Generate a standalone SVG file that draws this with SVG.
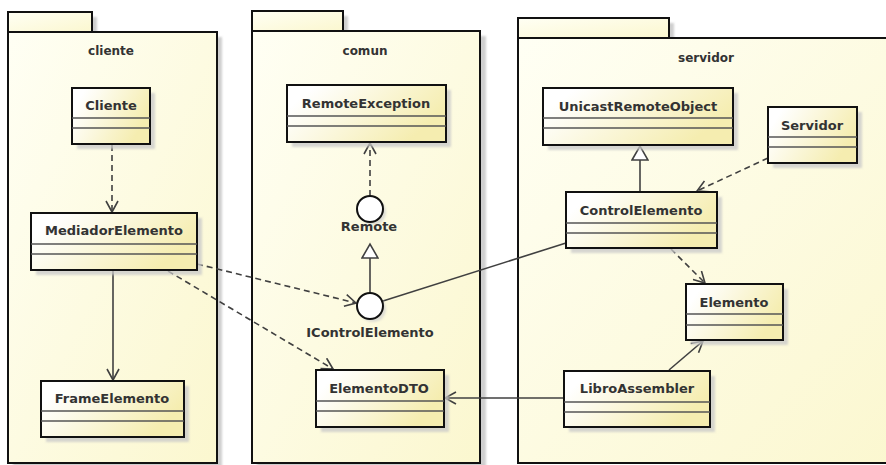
<svg xmlns="http://www.w3.org/2000/svg" width="886" height="465" viewBox="0 0 886 465">
  <style>
    .pkg { fill: url(#pkgFill); stroke: #111; stroke-width: 2; }
    .pkgShadow { fill: #cfcfcf; filter: url(#soft); }
    .cls { fill: url(#clsFill); stroke: #111; stroke-width: 2; }
    .clsShadow { fill: #c9c9c9; opacity: 0.75; filter: url(#soft); }
    .sep { stroke: #555; stroke-width: 1.5; }
    .name { font-family: "DejaVu Sans", Verdana, sans-serif; font-size: 13px; font-weight: bold; fill: #333; text-anchor: middle; }
    .pkgName { font-family: "DejaVu Sans", Verdana, sans-serif; font-size: 12px; font-weight: bold; fill: #333; text-anchor: middle; }
    .iface { fill: #fff; stroke: #111; stroke-width: 2; }
    .edge { fill: none; stroke: #404040; stroke-width: 1.6; }
    .dash { stroke-dasharray: 6 4; }
  </style>
  <defs>
    <linearGradient id="pkgFill" x1="0" y1="0" x2="1" y2="1">
      <stop offset="0" stop-color="#fffff4"/>
      <stop offset="1" stop-color="#fbf7cf"/>
    </linearGradient>
    <linearGradient id="clsFill" x1="0" y1="0" x2="1" y2="0.4">
      <stop offset="0.15" stop-color="#ffffff"/>
      <stop offset="1" stop-color="#f5edb0"/>
    </linearGradient>
    <filter id="soft" x="-10%" y="-10%" width="120%" height="120%">
      <feGaussianBlur stdDeviation="1.2"/>
    </filter>
    <marker id="open" viewBox="-1 -1 14 14" refX="11" refY="6" markerWidth="14" markerHeight="14" markerUnits="userSpaceOnUse" orient="auto">
      <path d="M0,0 L11,6 L0,12" fill="none" stroke="#404040" stroke-width="1.6"/>
    </marker>
    <marker id="tri" viewBox="-1 -1 17 18" refX="14" refY="8" markerWidth="17" markerHeight="18" markerUnits="userSpaceOnUse" orient="auto">
      <path d="M0,0 L14,8 L0,16 Z" fill="#fff" stroke="#404040" stroke-width="1.6"/>
    </marker>
  </defs>

  <rect x="0" y="0" width="886" height="465" fill="#fff"/>

  <!-- packages -->
  <g id="pkg-cliente">
    <rect class="pkgShadow" x="13" y="17" width="84" height="20"/>
    <rect class="pkgShadow" x="13" y="37" width="209" height="435"/>
    <rect class="pkg" x="8" y="12" width="84" height="20"/>
    <rect class="pkg" x="8" y="32" width="209" height="431"/>
    <text class="pkgName" x="111" y="55">cliente</text>
  </g>
  <g id="pkg-comun">
    <rect class="pkgShadow" x="257" y="16" width="91" height="20"/>
    <rect class="pkgShadow" x="257" y="36" width="229" height="435"/>
    <rect class="pkg" x="252" y="11" width="91" height="20"/>
    <rect class="pkg" x="252" y="31" width="228" height="432"/>
    <text class="pkgName" x="365" y="55">comun</text>
  </g>
  <g id="pkg-servidor">
    <rect class="pkgShadow" x="523" y="23" width="151" height="20"/>
    <rect class="pkg" x="518" y="18" width="151" height="20"/>
    <rect class="pkg" x="518" y="38" width="390" height="425"/>
    <text class="pkgName" x="706" y="62">servidor</text>
  </g>

  <!-- connectors -->
  <g id="connectors">
    <line class="edge dash" x1="112" y1="145" x2="112" y2="212" marker-end="url(#open)"/>
    <line class="edge" x1="113" y1="271" x2="113" y2="380" marker-end="url(#open)"/>
    <line class="edge dash" x1="197" y1="264" x2="356" y2="303" marker-end="url(#open)"/>
    <line class="edge dash" x1="168" y1="271" x2="333" y2="369" marker-end="url(#open)"/>
    <line class="edge" x1="370" y1="293" x2="370" y2="244" marker-end="url(#tri)"/>
    <line class="edge dash" x1="370" y1="196" x2="370" y2="143" marker-end="url(#open)"/>
    <line class="edge" x1="566" y1="243" x2="383" y2="301"/>
    <line class="edge" x1="640" y1="192" x2="640" y2="146" marker-end="url(#tri)"/>
    <line class="edge dash" x1="768" y1="158" x2="697" y2="191" marker-end="url(#open)"/>
    <line class="edge dash" x1="671" y1="249" x2="705" y2="283" marker-end="url(#open)"/>
    <line class="edge" x1="669" y1="370" x2="703" y2="341" marker-end="url(#open)"/>
    <line class="edge" x1="564" y1="398" x2="445" y2="398" marker-end="url(#open)"/>
  </g>

  <!-- classes -->
  <g id="Cliente">
    <rect class="clsShadow" x="77" y="93" width="78" height="56"/>
    <rect class="cls" x="72" y="88" width="78" height="56"/>
    <line class="sep" x1="72" y1="118" x2="150" y2="118"/>
    <line class="sep" x1="72" y1="128" x2="150" y2="128"/>
    <text class="name" x="111" y="110">Cliente</text>
  </g>
  <g id="MediadorElemento">
    <rect class="clsShadow" x="36" y="218" width="166" height="57"/>
    <rect class="cls" x="31" y="213" width="166" height="57"/>
    <line class="sep" x1="31" y1="244" x2="197" y2="244"/>
    <line class="sep" x1="31" y1="254" x2="197" y2="254"/>
    <text class="name" x="114" y="235">MediadorElemento</text>
  </g>
  <g id="FrameElemento">
    <rect class="clsShadow" x="46" y="386" width="143" height="56"/>
    <rect class="cls" x="41" y="381" width="143" height="56"/>
    <line class="sep" x1="41" y1="411" x2="184" y2="411"/>
    <line class="sep" x1="41" y1="421" x2="184" y2="421"/>
    <text class="name" x="112" y="403">FrameElemento</text>
  </g>
  <g id="RemoteException">
    <rect class="clsShadow" x="292" y="90" width="159" height="57"/>
    <rect class="cls" x="287" y="85" width="159" height="57"/>
    <line class="sep" x1="287" y1="116" x2="446" y2="116"/>
    <line class="sep" x1="287" y1="126" x2="446" y2="126"/>
    <text class="name" x="366" y="108">RemoteException</text>
  </g>
  <g id="Remote">
    <circle cx="373" cy="212" r="13" fill="#d0d0d0" opacity="0.7" filter="url(#soft)"/>
    <circle class="iface" cx="370" cy="209" r="13"/>
    <text class="name" x="369" y="231">Remote</text>
  </g>
  <g id="IControlElemento">
    <circle cx="373" cy="309" r="13" fill="#d0d0d0" opacity="0.7" filter="url(#soft)"/>
    <circle class="iface" cx="370" cy="306" r="13"/>
    <text class="name" x="370" y="337">IControlElemento</text>
  </g>
  <g id="ElementoDTO">
    <rect class="clsShadow" x="321" y="375" width="128" height="57"/>
    <rect class="cls" x="316" y="370" width="128" height="57"/>
    <line class="sep" x1="316" y1="401" x2="444" y2="401"/>
    <line class="sep" x1="316" y1="411" x2="444" y2="411"/>
    <text class="name" x="379" y="393">ElementoDTO</text>
  </g>
  <g id="UnicastRemoteObject">
    <rect class="clsShadow" x="548" y="93" width="190" height="57"/>
    <rect class="cls" x="543" y="88" width="190" height="57"/>
    <line class="sep" x1="543" y1="118" x2="733" y2="118"/>
    <line class="sep" x1="543" y1="128" x2="733" y2="128"/>
    <text class="name" x="638" y="111">UnicastRemoteObject</text>
  </g>
  <g id="Servidor">
    <rect class="clsShadow" x="773" y="112" width="89" height="56"/>
    <rect class="cls" x="768" y="107" width="89" height="56"/>
    <line class="sep" x1="768" y1="137" x2="857" y2="137"/>
    <line class="sep" x1="768" y1="147" x2="857" y2="147"/>
    <text class="name" x="812" y="130">Servidor</text>
  </g>
  <g id="ControlElemento">
    <rect class="clsShadow" x="571" y="197" width="151" height="56"/>
    <rect class="cls" x="566" y="192" width="151" height="56"/>
    <line class="sep" x1="566" y1="223" x2="717" y2="223"/>
    <line class="sep" x1="566" y1="233" x2="717" y2="233"/>
    <text class="name" x="641" y="215">ControlElemento</text>
  </g>
  <g id="Elemento">
    <rect class="clsShadow" x="691" y="289" width="97" height="56"/>
    <rect class="cls" x="686" y="284" width="97" height="56"/>
    <line class="sep" x1="686" y1="314" x2="783" y2="314"/>
    <line class="sep" x1="686" y1="325" x2="783" y2="325"/>
    <text class="name" x="734" y="307">Elemento</text>
  </g>
  <g id="LibroAssembler">
    <rect class="clsShadow" x="569" y="376" width="146" height="56"/>
    <rect class="cls" x="564" y="371" width="146" height="56"/>
    <line class="sep" x1="564" y1="402" x2="710" y2="402"/>
    <line class="sep" x1="564" y1="412" x2="710" y2="412"/>
    <text class="name" x="637" y="393">LibroAssembler</text>
  </g>
</svg>
